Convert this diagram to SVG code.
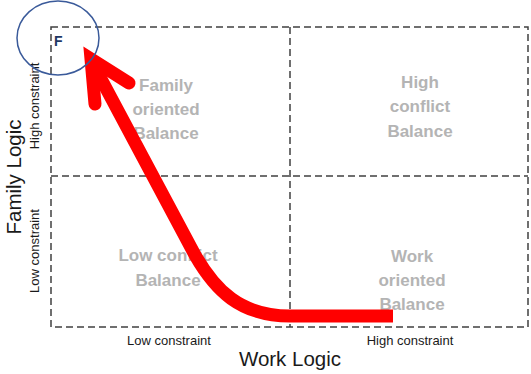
<svg xmlns="http://www.w3.org/2000/svg" width="531" height="374" viewBox="0 0 531 374">
<style>
.grid{fill:none;stroke:#404040;stroke-width:1.5;stroke-dasharray:7,4}
.q{font-family:"Liberation Sans",Arial,sans-serif;font-weight:bold;font-size:17px;fill:#b4b4b4;text-anchor:middle}
.ax{font-family:"Liberation Sans",Arial,sans-serif;font-size:13px;fill:#1a1a1a;text-anchor:middle}
.title{font-family:"Liberation Sans",Arial,sans-serif;font-size:20.5px;fill:#1a1a1a;text-anchor:middle}
.arrow{fill:none;stroke:#ff0000;stroke-width:13}
</style>
<rect width="531" height="374" fill="#ffffff"/>
<g id="grid">
<rect class="grid" x="51" y="27" width="477" height="300"/>
<line class="grid" x1="290" y1="27" x2="290" y2="327"/>
<line class="grid" x1="51" y1="176" x2="528" y2="176"/>
</g>
<g id="q-family"><text class="q" x="166" y="91">Family</text><text class="q" x="166" y="115">oriented</text><text class="q" x="166" y="139">Balance</text></g>
<g id="q-high"><text class="q" x="420" y="88">High</text><text class="q" x="420" y="112">conflict</text><text class="q" x="420" y="137">Balance</text></g>
<g id="q-low"><text class="q" x="168" y="261">Low conflict</text><text class="q" x="168" y="286">Balance</text></g>
<g id="q-work"><text class="q" x="412" y="262">Work</text><text class="q" x="412" y="286">oriented</text><text class="q" x="412" y="310">Balance</text></g>
<g id="labels">
<text class="ax" x="169" y="345">Low constraint</text>
<text class="ax" x="410" y="345">High constraint</text>
<text class="ax" transform="translate(39,251) rotate(-90)">Low constraint</text>
<text class="ax" transform="translate(39,106) rotate(-90)">High constraint</text>
<text class="title" x="290" y="366">Work Logic</text>
<text class="title" transform="translate(21,177) rotate(-90)">Family Logic</text>
</g>
<g id="connectors">
<path class="arrow" d="M393,316 L290,316 C240,316 215,290 195,255 L92,62" stroke-linejoin="round"/>
<polyline class="arrow" points="129,83 91,59 95,104" stroke-linecap="round" stroke-linejoin="miter"/>
</g>
<g id="marker-F">
<ellipse cx="58" cy="38" rx="41" ry="37" fill="none" stroke="#3a5a9a" stroke-width="1.5"/>
<text x="54" y="46" font-family="'Liberation Sans',Arial,sans-serif" font-weight="bold" font-size="14" fill="#1f3864">F</text>
</g>
</svg>
